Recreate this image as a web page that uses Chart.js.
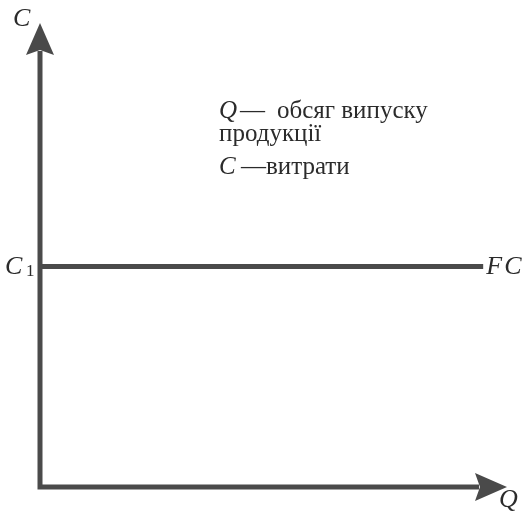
<!DOCTYPE html>
<html>
<head>
<meta charset="utf-8">
<script src="https://cdn.jsdelivr.net/npm/chart.js@4"></script>
<style>
  body { margin: 0; background: #fff; }
  #wrap { width: 524px; height: 513px; }
</style>
</head>
<body>
<div id="wrap"><canvas id="fcChart" width="524" height="513"></canvas></div>
<script>
// дані: постійні витрати FC не залежать від обсягу випуску Q
const qValues = [0, 9.49];
const fcValues = [4.75, 4.75];
const axisMax = 10;

const lineColor = '#4a4a4a';
const textColor = '#2b2b2b';

// стрілки осей і підписи
const axesPlugin = {
    id: 'axesPlugin',
    afterDatasetsDraw(chart) {
        const ctx = chart.ctx;
        const xs = chart.scales.x;
        const ys = chart.scales.y;
        const x0 = xs.getPixelForValue(0);
        const y0 = ys.getPixelForValue(0);
        const xTip = xs.getPixelForValue(axisMax);
        const yTip = ys.getPixelForValue(axisMax);

        ctx.save();
        ctx.strokeStyle = lineColor;
        ctx.fillStyle = lineColor;
        ctx.lineWidth = 5;
        ctx.lineJoin = 'miter';
        ctx.lineCap = 'butt';
        ctx.beginPath();
        ctx.moveTo(x0, yTip + 28);
        ctx.lineTo(x0, y0);
        ctx.lineTo(xTip - 28, y0);
        ctx.stroke();

        // стрілка вгору
        ctx.beginPath();
        ctx.moveTo(x0, yTip);
        ctx.lineTo(x0 + 14, yTip + 32);
        ctx.lineTo(x0, yTip + 27);
        ctx.lineTo(x0 - 14, yTip + 32);
        ctx.closePath();
        ctx.fill();

        // стрілка вправо
        ctx.beginPath();
        ctx.moveTo(xTip, y0);
        ctx.lineTo(xTip - 32, y0 - 14);
        ctx.lineTo(xTip - 27, y0);
        ctx.lineTo(xTip - 32, y0 + 14);
        ctx.closePath();
        ctx.fill();

        // підписи
        const fcY = ys.getPixelForValue(fcValues[0]);
        const fcEnd = xs.getPixelForValue(qValues[1]);
        ctx.fillStyle = textColor;
        ctx.textBaseline = 'alphabetic';
        ctx.textAlign = 'left';
        ctx.font = 'italic 26px "Liberation Serif"';
        ctx.fillText('C', 13, 26);
        ctx.fillText('C', 5, fcY + 7);
        ctx.fillText('F', fcEnd + 3, fcY + 7);
        ctx.fillText('C', fcEnd + 21, fcY + 7);
        ctx.fillText('Q', xTip - 8, y0 + 20);
        ctx.font = '17px "Liberation Serif"';
        ctx.fillText('1', 26, fcY + 9);

        ctx.font = 'italic 25px "Liberation Serif"';
        ctx.fillText('Q', 219, 118);
        ctx.fillText('C', 219, 174);
        ctx.font = '25px "Liberation Serif"';
        ctx.fillText('—', 240, 118);
        ctx.fillText('обсяг випуску', 277, 118);
        ctx.fillText('продукції', 219, 141);
        ctx.fillText('—витрати', 241, 174);
        ctx.restore();
    }
};

new Chart(document.getElementById('fcChart'), {
    type: 'line',
    data: {
        datasets: [{
            label: 'FC',
            data: qValues.map((q, i) => ({ x: q, y: fcValues[i] })),
            borderColor: lineColor,
            borderWidth: 5,
            pointRadius: 0,
            borderCapStyle: 'butt',
            fill: false,
            clip: false
        }]
    },
    options: {
        responsive: false,
        animation: false,
        layout: { padding: { left: 40, right: 17, top: 23, bottom: 26 } },
        scales: {
            x: { type: 'linear', min: 0, max: axisMax, display: false },
            y: { type: 'linear', min: 0, max: axisMax, display: false }
        },
        plugins: {
            legend: { display: false },
            tooltip: { enabled: false }
        }
    },
    plugins: [axesPlugin]
});
</script>
</body>
</html>
